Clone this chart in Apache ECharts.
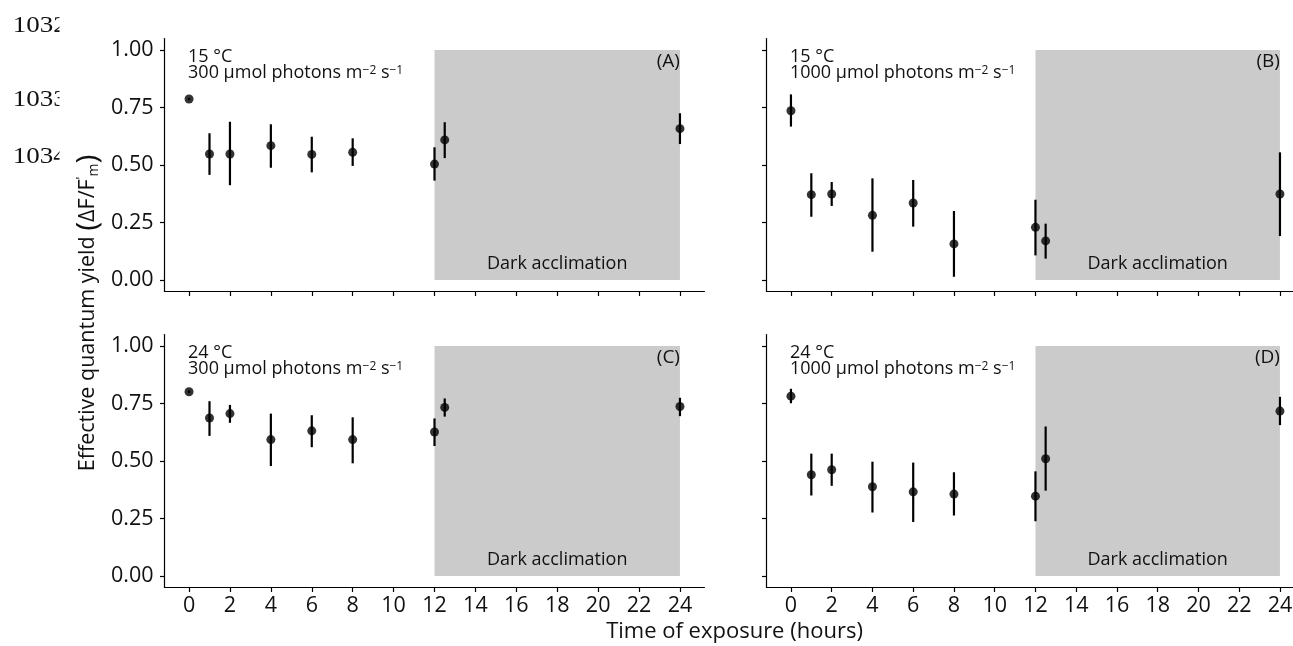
<!DOCTYPE html>
<html><head><meta charset="utf-8">
<script src="https://cdn.jsdelivr.net/npm/echarts@6/dist/echarts.min.js"></script>
<style>html,body{margin:0;padding:0;background:#fff}#c{width:1293px;height:646px}</style>
</head><body><div id="c"></div><script>
// ---- data ----
const times = [0, 1, 2, 4, 6, 8, 12, 12.5, 24];

const meanA = [0.787, 0.548, 0.548, 0.584, 0.546, 0.555, 0.504, 0.609, 0.658];
const lowA  = [0.782, 0.457, 0.412, 0.488, 0.468, 0.496, 0.432, 0.530, 0.591];
const highA = [0.792, 0.638, 0.688, 0.677, 0.623, 0.616, 0.577, 0.686, 0.725];

const meanB = [0.736, 0.371, 0.374, 0.281, 0.335, 0.157, 0.229, 0.170, 0.374];
const lowB  = [0.667, 0.275, 0.322, 0.123, 0.232, 0.014, 0.107, 0.093, 0.191];
const highB = [0.807, 0.464, 0.426, 0.442, 0.435, 0.300, 0.349, 0.245, 0.555];

const meanC = [0.801, 0.687, 0.706, 0.593, 0.631, 0.593, 0.626, 0.733, 0.737];
const lowC  = [0.795, 0.609, 0.666, 0.478, 0.560, 0.490, 0.565, 0.693, 0.695];
const highC = [0.807, 0.760, 0.744, 0.706, 0.699, 0.690, 0.685, 0.772, 0.775];

const meanD = [0.782, 0.440, 0.462, 0.388, 0.366, 0.356, 0.347, 0.510, 0.717];
const lowD  = [0.751, 0.350, 0.392, 0.276, 0.235, 0.263, 0.238, 0.371, 0.656];
const highD = [0.814, 0.532, 0.532, 0.497, 0.493, 0.451, 0.455, 0.650, 0.779];

const xTicks = [0, 2, 4, 6, 8, 10, 12, 14, 16, 18, 20, 22, 24];
const xTickLabels = ['0','2','4','6','8','10','12','14','16','18','20','22','24'];
const yTicks = [0, 0.25, 0.5, 0.75, 1];
const yTickLabels = ['0.00', '0.25', '0.50', '0.75', '1.00'];

const panelTags = ['(A)', '(B)', '(C)', '(D)'];
const panelTemps = ['15 °C', '15 °C', '24 °C', '24 °C'];
const panelLights = ['300', '1000', '300', '1000'];
const darkStart = 12, darkEnd = 24;
const darkLabel = 'Dark acclimation';
const lineNumbers = ['1032', '1033', '1034'];
const xTitle = 'Time of exposure (hours)';

const means = [meanA, meanB, meanC, meanD];
const lows = [lowA, lowB, lowC, lowD];
const highs = [highA, highB, highC, highD];

// ---- layout / style ----
const FONT = "'Open Sans', 'Noto Sans', sans-serif";
const INK = '#111';
const grids = [
  {left: 164.5, top: 38.5, width: 540, height: 253, outerBoundsMode: 'none'},
  {left: 766.5, top: 38.5, width: 526.5, height: 253, outerBoundsMode: 'none'},
  {left: 164.5, top: 334.5, width: 540, height: 253, outerBoundsMode: 'none'},
  {left: 766.5, top: 334.5, width: 526.5, height: 253, outerBoundsMode: 'none'}
];
// right-hand panels are cut by the page edge: shorter visible range
const xMax = [25.2, 24.64, 25.2, 24.64];

function lookup(ticks, labels, v) {
  for (let k = 0; k < ticks.length; k++) if (Math.abs(ticks[k] - v) < 1e-6) return labels[k];
  return '';
}

const xAxes = [], yAxes = [], series = [];
for (let i = 0; i < 4; i++) {
  xAxes.push({
    type: 'value', gridIndex: i, min: -1.2, max: xMax[i],
    axisLine: {show: true, onZero: false, lineStyle: {color: '#000', width: 1.2}},
    axisTick: {show: true, length: 4.5, customValues: xTicks, lineStyle: {color: '#000', width: 1.2}},
    axisLabel: {show: i >= 2, customValues: xTicks, fontSize: 21.5, fontFamily: FONT, color: INK, margin: 7,
      hideOverlap: false, formatter: v => lookup(xTicks, xTickLabels, v)},
    splitLine: {show: false}
  });
  yAxes.push({
    type: 'value', gridIndex: i, min: -0.05, max: 1.05,
    axisLine: {show: true, onZero: false, lineStyle: {color: '#000', width: 1.2}},
    axisTick: {show: true, length: 4.5, customValues: yTicks, lineStyle: {color: '#000', width: 1.2}},
    axisLabel: {show: i % 2 === 0, customValues: yTicks, fontSize: 21.5, fontFamily: FONT, color: INK, margin: 11,
      formatter: v => lookup(yTicks, yTickLabels, v)},
    splitLine: {show: false}
  });

  const tag = panelTags[i], temp = panelTemps[i], light = panelLights[i];
  series.push({
    type: 'custom', xAxisIndex: i, yAxisIndex: i, z: 1, silent: true, clip: false,
    data: [[darkStart, 0]],
    renderItem: function (params, api) {
      const p0 = api.coord([darkStart, 0]), p1 = api.coord([darkEnd, 1]);
      const tl = api.coord([0, 1]);
      const tg = api.coord([darkEnd, 0.95]);
      const dl = api.coord([(darkStart + darkEnd) / 2, 0.07]);
      return {type: 'group', children: [
        {type: 'rect', shape: {x: p0[0], y: p1[1], width: p1[0] - p0[0], height: p0[1] - p1[1]},
          style: {fill: '#cbcbcb'}},
        {type: 'text', x: dl[0], y: dl[1], style: {text: darkLabel, fontSize: 18, fontFamily: FONT,
          fill: INK, align: 'center', verticalAlign: 'middle'}},
        {type: 'text', x: tg[0], y: tg[1], style: {text: tag, fontSize: 19, fontFamily: FONT,
          fill: INK, align: 'right', verticalAlign: 'middle'}},
        {type: 'text', x: tl[0] - 1, y: tl[1] - 1, style: {
          text: '{a|' + temp + '}\n{a|' + light + ' µmol photons m}{s|−2}{a| s}{s|−1}',
          align: 'left', verticalAlign: 'top', fill: INK,
          rich: {
            a: {fontSize: 18, lineHeight: 16, fontFamily: FONT, fill: INK},
            s: {fontSize: 12, lineHeight: 5, verticalAlign: 'top', fontFamily: FONT, fill: INK}
          }}}
      ]};
    }
  });
  series.push({
    type: 'custom', xAxisIndex: i, yAxisIndex: i, z: 2, silent: true,
    data: times.map((t, j) => [t, lows[i][j], highs[i][j]]),
    encode: {x: 0, y: [1, 2]},
    renderItem: function (params, api) {
      const a = api.coord([api.value(0), api.value(1)]);
      const b = api.coord([api.value(0), api.value(2)]);
      return {type: 'line', shape: {x1: a[0], y1: a[1], x2: b[0], y2: b[1]},
        style: {stroke: '#000', lineWidth: 2.2}};
    }
  });
  series.push({
    type: 'scatter', xAxisIndex: i, yAxisIndex: i, z: 3, silent: true,
    symbol: 'circle', symbolSize: 9,
    itemStyle: {color: '#000'},
    data: times.map((t, j) => [t, means[i][j]])
  });
}

const graphics = [];
const lnY = [26, 100, 157];
lineNumbers.forEach((s, k) => {
  graphics.push({type: 'text', x: 12.7, y: lnY[k], scaleX: 1.15, style: {text: s,
    fontSize: 23.5, fontFamily: "'Liberation Serif', 'DejaVu Serif', serif", fill: '#111',
    align: 'left', verticalAlign: 'middle'}, z: 1});
  graphics.push({type: 'rect', shape: {x: 59.5, y: lnY[k] - 13, width: 11.5, height: 26},
    style: {fill: '#fff'}, z: 2});
});
graphics.push({type: 'text', x: 88, y: 313, rotation: Math.PI / 2, z: 3, style: {
  text: '{t|Effective quantum yield }{p|(}{t|ΔF/F}{s|\'}{b|m}{p|)}',
  align: 'center', verticalAlign: 'middle', fill: INK,
  rich: {
    t: {fontSize: 21.5, fontFamily: FONT, fill: INK, lineHeight: 26},
    p: {fontSize: 30, fontFamily: FONT, fill: INK, lineHeight: 26},
    s: {fontSize: 13, fontFamily: FONT, fill: INK, verticalAlign: 'top', lineHeight: 8},
    b: {fontSize: 14, fontFamily: FONT, fill: INK, verticalAlign: 'bottom', lineHeight: 13}
  }}});
graphics.push({type: 'text', x: 734.5, y: 632, z: 3, style: {text: xTitle, fontSize: 22,
  fontFamily: FONT, fill: INK, align: 'center', verticalAlign: 'middle'}});

const chart = echarts.init(document.getElementById('c'), null, {renderer: 'canvas'});
chart.setOption({
  animation: false,
  backgroundColor: '#fff',
  grid: grids,
  xAxis: xAxes,
  yAxis: yAxes,
  series: series,
  graphic: graphics
});
</script></body></html>
